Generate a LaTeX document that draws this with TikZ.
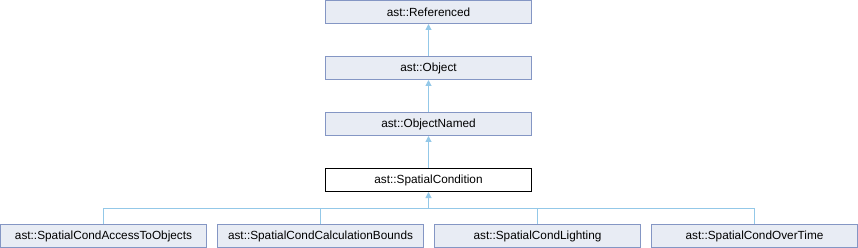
\documentclass[tikz,border=0pt]{standalone}
\usepackage{fontspec}
\setmainfont{Liberation Sans}
\usetikzlibrary{arrows.meta}
\definecolor{boxfill}{RGB}{232,236,244}
\definecolor{boxline}{RGB}{132,150,196}
\definecolor{edge}{RGB}{147,200,232}
\tikzset{
  cls/.style={draw=boxline, fill=boxfill, line width=1pt, minimum width=206pt, minimum height=23pt, inner sep=0pt, font=\fontsize{11.8}{13}\selectfont},
  cur/.style={cls, draw=black, fill=white},
  inh/.style={draw=edge, line width=1pt, -{Triangle[length=6pt,width=6pt]}},
  lnk/.style={draw=edge, line width=1pt},
}
\begin{document}
\begin{tikzpicture}[x=1pt,y=-1pt]
\useasboundingbox (0,0) rectangle (858,248);
\node[cls] (ref) at (428.5,12) {ast::Referenced};
\node[cls] (obj) at (428.5,68) {ast::Object};
\node[cls] (objn) at (428.5,124) {ast::ObjectNamed};
\node[cur] (sc) at (428.5,180) {ast::SpatialCondition};
\node[cls] (c1) at (103.5,236) {ast::SpatialCondAccessToObjects};
\node[cls] (c2) at (320.5,236) {ast::SpatialCondCalculationBounds};
\node[cls] (c3) at (537.5,236) {ast::SpatialCondLighting};
\node[cls] (c4) at (754.5,236) {ast::SpatialCondOverTime};
\coordinate (bus) at (428.5,208.5);
\draw[inh] (obj.north) -- (ref.south);
\draw[inh] (objn.north) -- (obj.south);
\draw[inh] (sc.north) -- (objn.south);
\draw[lnk] (c1.north) |- (bus);
\draw[lnk] (c2.north) |- (bus);
\draw[lnk] (c3.north) |- (bus);
\draw[lnk] (c4.north) |- (bus);
\draw[inh] (bus) -- (sc.south);
\end{tikzpicture}
\end{document}
